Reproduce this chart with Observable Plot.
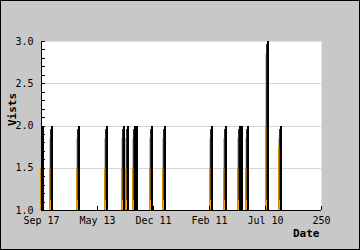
<!DOCTYPE html>
<html>
<head>
<meta charset="utf-8">
<script src="https://cdn.jsdelivr.net/npm/d3@7"></script>
<script src="https://cdn.jsdelivr.net/npm/@observablehq/plot@0.6"></script>
<style>
  html, body { margin: 0; padding: 0; background: #c8c8c8; }
  svg { display: block; outline: 1px solid #000; outline-offset: -1px; }
</style>
</head>
<body>
<script>
// Data
const dayIndex   = [1, 9, 33, 58, 73, 77, 83, 85, 98, 110, 152, 164, 177, 179, 184, 202, 213];
const visits     = [2, 2, 2, 2, 2, 2, 2, 2, 2, 2, 2, 2, 2, 2, 2, 3, 2];
const orangeTop  = [1.5, 1.5, 1.5, 1.5, 1.5, 1.5, 1.5, 1.5, 1.5, 1.5, 1.5, 1.5, 1.5, 1.5, 1.5, 2.0, 1.75];
const xTicks      = [0, 50, 100, 150, 200, 250];
const xTickLabels = ["Sep 17", "May 13", "Dec 11", "Feb 11", "Jul 10", "250"];
const yTicks      = [1.0, 1.5, 2.0, 2.5, 3.0];
const yMinorTicks = [1.0,1.1,1.2,1.3,1.4,1.5,1.6,1.7,1.8,1.9,2.0,2.1,2.2,2.3,2.4,2.5,2.6,2.7,2.8,2.9,3.0];
const gridLines   = [1.5, 2.0, 2.5];

const spikes = dayIndex.map((x, i) => ({x, v: visits[i], o: orangeTop[i]}));

const W = 360, H = 250, ML = 41, MR = 39, MT = 41, MB = 40;
const crisp = {shapeRendering: "crispEdges"};

const chart = Plot.plot({
  width: W,
  height: H,
  marginLeft: ML,
  marginRight: MR,
  marginTop: MT,
  marginBottom: MB,
  x: {domain: [0, 250]},
  y: {domain: [1, 3]},
  style: {background: "#c8c8c8", fontFamily: "DejaVu Sans Mono", fontSize: "10px", color: "#000"},
  marks: [
    Plot.frame({fill: "white", stroke: "none"}),
    Plot.ruleY(gridLines, {stroke: "#d6d6d6", strokeWidth: 1, ...crisp}),
    // outer column: light shadow above, orange below
    Plot.ruleX(spikes, {x: "x", y1: "o", y2: d => d.v - 0.15, dx: -2, stroke: "#c2c2c2", strokeWidth: 1, ...crisp}),
    Plot.ruleX(spikes, {x: "x", y1: 1, y2: "o", dx: -2, stroke: "#d48c00", strokeWidth: 1, ...crisp}),
    // inner column: dark above, brown below, bright orange base
    Plot.ruleX(spikes, {x: "x", y1: "o", y2: d => d.v - 0.04, dx: -1, stroke: "#333333", strokeWidth: 1, ...crisp}),
    Plot.ruleX(spikes, {x: "x", y1: 1.12, y2: "o", dx: -1, stroke: "#7a5200", strokeWidth: 1, ...crisp}),
    Plot.ruleX(spikes, {x: "x", y1: 1, y2: 1.12, dx: -1, stroke: "#ffa000", strokeWidth: 1, ...crisp}),
    // black edge
    Plot.ruleX(spikes, {x: "x", y1: 1, y2: "v", dx: 0.5, stroke: "#000", strokeWidth: 2, ...crisp}),
    // axis lines
    Plot.ruleX([0], {stroke: "#000", ...crisp}),
    Plot.ruleY([1], {stroke: "#000", ...crisp}),
    // y axis labels
    Plot.axisY({ticks: yTicks, tickFormat: d3.format(".1f"), tickSize: 0, tickPadding: 8, label: null}),
    // inward minor ticks on y (4px long, inside the frame)
    Plot.tickY(yMinorTicks, {y: d => d, insetRight: (W - ML - MR) - 4, stroke: "#000", ...crisp}),
    // x axis labels
    Plot.axisX({ticks: xTicks, tickFormat: (d, i) => xTickLabels[i], tickSize: 0, tickPadding: 6, label: null}),
    // inward ticks on x
    Plot.tickX(xTicks, {x: d => d, insetTop: (H - MT - MB) - 4, stroke: "#000", ...crisp}),
    // axis titles
    Plot.text(["Vists"], {frameAnchor: "left", dx: -29, rotate: -90, fontWeight: "bold", fontSize: 11, fill: "#000"}),
    Plot.text(["Date"], {frameAnchor: "bottom-right", dx: -2, dy: 26, textAnchor: "end", fontWeight: "bold", fontSize: 11, fill: "#000"})
  ]
});
document.body.appendChild(chart);
</script>
</body>
</html>
